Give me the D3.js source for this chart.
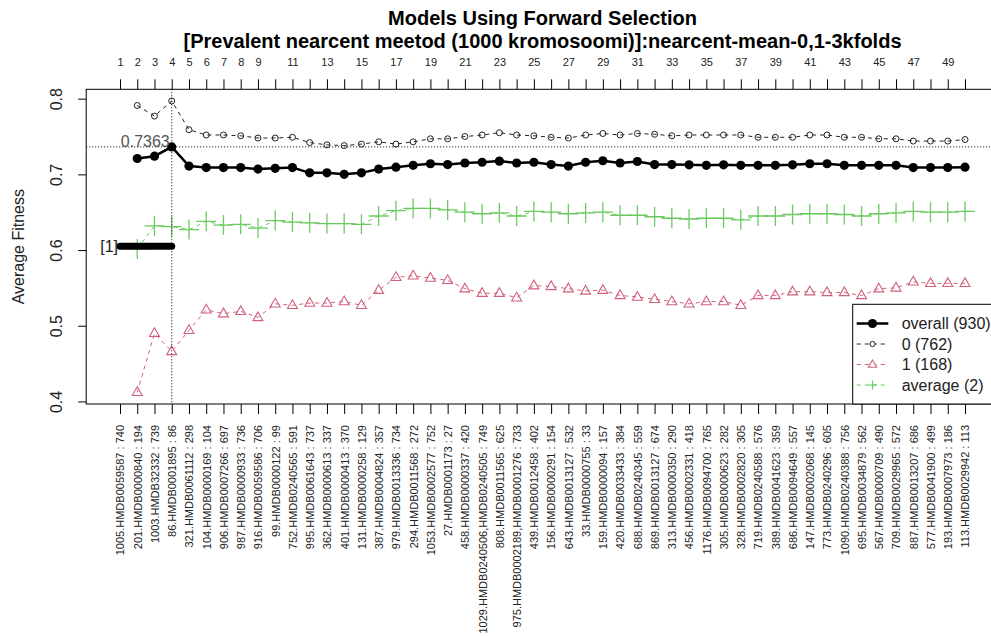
<!DOCTYPE html>
<html>
<head>
<meta charset="utf-8">
<script src="https://cdn.jsdelivr.net/npm/d3@7"></script>
<style>
  html, body { margin: 0; padding: 0; background: #fff; }
  svg { display: block; font-family: "Liberation Sans", Arial, sans-serif; }
</style>
</head>
<body>
<svg id="chart" width="991" height="636"></svg>
<script>
// Model steps 1..50 (step 1 has no fitness value)
const steps = d3.range(1, 51);

const featureLabels = [
  "1005.HMDB0059587 : 740", "201.HMDB0000840 : 194", "1003.HMDB32332 : 739", "86.HMDB0001895 : 86",
  "321.HMDB0061112 : 298", "104.HMDB0000169 : 104", "906.HMDB0007266 : 697", "987.HMDB0000933 : 736",
  "916.HMDB0059586 : 706", "99.HMDB0000122 : 99", "752.HMDB0240565 : 591", "995.HMDB0061643 : 737",
  "362.HMDB0000613 : 337", "401.HMDB0000413 : 370", "131.HMDB0000258 : 129", "387.HMDB0004824 : 357",
  "979.HMDB0013336 : 734", "294.HMDB0011568 : 272", "1053.HMDB0002577 : 752", "27.HMDB0001173 : 27",
  "458.HMDB0000337 : 420", "1029.HMDB0240506,HMDB0240505 : 749", "808.HMDB0011565 : 625",
  "975.HMDB0002189,HMDB0001276 : 733", "439.HMDB0012458 : 402", "156.HMDB0000291 : 154",
  "643.HMDB0013127 : 532", "33.HMDB0000755 : 33", "159.HMDB0000094 : 157", "420.HMDB0033433 : 384",
  "688.HMDB0240345 : 559", "869.HMDB0013127 : 674", "313.HMDB0000350 : 290", "456.HMDB0002331 : 418",
  "1176.HMDB0094700 : 765", "305.HMDB0000623 : 282", "328.HMDB0002820 : 305", "719.HMDB0240588 : 576",
  "389.HMDB0041623 : 359", "686.HMDB0094649 : 557", "147.HMDB0002068 : 145", "773.HMDB0240296 : 605",
  "1090.HMDB0240388 : 756", "695.HMDB0034879 : 562", "567.HMDB0000709 : 490", "709.HMDB0029965 : 572",
  "887.HMDB0013207 : 686", "577.HMDB0041900 : 499", "193.HMDB0007973 : 186", "113.HMDB0029942 : 113"
];

// Step numbers printed on the top axis
const topTickLabels = [1, 2, 3, 4, 5, 6, 7, 8, 9, 11, 13, 15, 17, 19, 21, 23, 25, 27, 29, 31,
  33, 35, 37, 39, 41, 43, 45, 47, 49];

const yTicks = [0.4, 0.5, 0.6, 0.7, 0.8];

const overallFitness = [null,
  0.721, 0.724, 0.7363, 0.711, 0.709, 0.709, 0.709, 0.707, 0.708, 0.709,
  0.702, 0.702, 0.700, 0.702, 0.707, 0.7095, 0.712, 0.714, 0.713, 0.715,
  0.716, 0.7175, 0.715, 0.716, 0.713, 0.711, 0.716, 0.718, 0.715, 0.717,
  0.713, 0.713, 0.7126, 0.712, 0.7126, 0.712, 0.712, 0.712, 0.7126, 0.714,
  0.714, 0.712, 0.712, 0.712, 0.712, 0.709, 0.709, 0.709, 0.7095];

const class0Fitness = [null,
  0.791, 0.777, 0.797, 0.759, 0.752, 0.752, 0.751, 0.748, 0.748, 0.749,
  0.742, 0.739, 0.738, 0.740, 0.743, 0.740, 0.743, 0.747, 0.747, 0.750,
  0.752, 0.755, 0.752, 0.751, 0.749, 0.748, 0.752, 0.754, 0.752, 0.754,
  0.753, 0.751, 0.752, 0.752, 0.752, 0.752, 0.749, 0.749, 0.749, 0.752,
  0.752, 0.749, 0.749, 0.747, 0.747, 0.744, 0.744, 0.744, 0.746];

const class1Fitness = [null,
  0.412, 0.490, 0.466, 0.494, 0.521, 0.516, 0.519, 0.511, 0.529, 0.527,
  0.530, 0.530, 0.532, 0.527, 0.547, 0.564, 0.566, 0.563, 0.560, 0.549,
  0.543, 0.543, 0.537, 0.553, 0.552, 0.549, 0.546, 0.547, 0.540, 0.538,
  0.535, 0.532, 0.529, 0.532, 0.532, 0.527, 0.540, 0.540, 0.545, 0.545,
  0.544, 0.544, 0.540, 0.549, 0.550, 0.558, 0.556, 0.556, 0.556];

const averageFitness = [null,
  0.6015, 0.632, 0.631, 0.627, 0.638, 0.633, 0.634, 0.629, 0.639, 0.637,
  0.636, 0.635, 0.635, 0.634, 0.645, 0.652, 0.655, 0.655, 0.653, 0.650,
  0.648, 0.649, 0.645, 0.651, 0.650, 0.648, 0.649, 0.650, 0.646, 0.646,
  0.644, 0.642, 0.641, 0.642, 0.642, 0.640, 0.645, 0.645, 0.647, 0.648,
  0.648, 0.647, 0.645, 0.648, 0.649, 0.651, 0.650, 0.650, 0.651];

// Best model: step and fitness; "[1]" bar level spanning steps 1..4
const bestStep = 4;
const bestFitness = 0.7363;
const firstGroupLevel = 0.605;
const firstGroupSpan = [1, 4];

const legendItems = ["overall (930)", "0 (762)", "1 (168)", "average (2)"];

// ---------- layout ----------
const svg = d3.select("#chart");
const plot = { left: 86.2, right: 998.8, top: 89.3, bottom: 404 };

const xPad = (steps[steps.length - 1] - steps[0]) * 0.04;
const x = d3.scaleLinear()
  .domain([steps[0] - xPad, steps[steps.length - 1] + xPad])
  .range([plot.left, plot.right]);

const allVals = [].concat(overallFitness, class0Fitness, class1Fitness, averageFitness).filter(v => v != null);
const [yMin, yMax] = d3.extent(allVals);
const yPad = (yMax - yMin) * 0.04;
const y = d3.scaleLinear().domain([yMin - yPad, yMax + yPad]).range([plot.bottom, plot.top]);

const colPink = "#D0617A";
const colGreen = "#6CCB60";

// ---------- titles ----------
const cx = (plot.left + plot.right) / 2;
svg.append("text").attr("x", cx).attr("y", 24.5).attr("text-anchor", "middle")
  .attr("font-size", 20).attr("font-weight", "bold").text("Models Using Forward Selection");
svg.append("text").attr("x", cx).attr("y", 48).attr("text-anchor", "middle")
  .attr("font-size", 20).attr("font-weight", "bold")
  .text("[Prevalent nearcent meetod (1000 kromosoomi)]:nearcent-mean-0,1-3kfolds");

// ---------- axes ----------
const topAxis = d3.axisTop(x).tickValues(steps)
  .tickFormat(d => topTickLabels.includes(d) ? d : "")
  .tickSize(10).tickSizeOuter(0).tickPadding(13);
const gTop = svg.append("g").attr("transform", `translate(0,${plot.top})`).call(topAxis);
gTop.select(".domain").remove();
gTop.selectAll("text").attr("font-size", 11).attr("font-family", "Liberation Sans, Arial, sans-serif").attr("fill", "#222");

const bottomAxis = d3.axisBottom(x).tickValues(steps)
  .tickFormat(d => featureLabels[d - 1])
  .tickSize(10).tickSizeOuter(0);
const gBot = svg.append("g").attr("transform", `translate(0,${plot.bottom})`).call(bottomAxis);
gBot.select(".domain").remove();
gBot.selectAll("text")
  .attr("font-size", 11).attr("font-family", "Liberation Sans, Arial, sans-serif").attr("fill", "#222")
  .attr("transform", "rotate(-90)")
  .attr("text-anchor", "end")
  .attr("x", -21).attr("y", 0).attr("dy", "0.35em");

const leftAxis = d3.axisLeft(y).tickValues(yTicks).tickFormat(d3.format(".1f"))
  .tickSize(8).tickSizeOuter(0);
const gLeft = svg.append("g").attr("transform", `translate(${plot.left},0)`).call(leftAxis);
gLeft.select(".domain").remove();
gLeft.selectAll("text")
  .attr("font-size", 16).attr("font-family", "Liberation Sans, Arial, sans-serif").attr("fill", "#222")
  .attr("transform", "rotate(-90)")
  .attr("text-anchor", "middle")
  .attr("x", 0).attr("y", -24).attr("dy", 0);

svg.append("text")
  .attr("transform", `translate(24,${(plot.top + plot.bottom) / 2}) rotate(-90)`)
  .attr("text-anchor", "middle").attr("font-size", 16).attr("fill", "#222")
  .text("Average Fitness");

// plot frame
svg.append("rect")
  .attr("x", plot.left).attr("y", plot.top)
  .attr("width", plot.right - plot.left).attr("height", plot.bottom - plot.top)
  .attr("fill", "none").attr("stroke", "#000").attr("stroke-width", 1);

// ---------- series ----------
const seriesData = arr => steps.map((s, i) => ({ s, v: arr[i] }));
const line = d3.line().defined(d => d.v != null).x(d => x(d.s)).y(d => y(d.v));

const g = svg.append("g");

// average (green, dashed, large plus signs)
const avg = seriesData(averageFitness);
g.append("path").datum(avg).attr("d", line)
  .attr("fill", "none").attr("stroke", colGreen).attr("stroke-width", 1).attr("stroke-dasharray", "4,4");
g.selectAll(".plus").data(avg.filter(d => d.v != null)).join("path")
  .attr("d", d => { const px = x(d.s), py = y(d.v), h = 10;
    return `M${px - h},${py}H${px + h}M${px},${py - h}V${py + h}`; })
  .attr("stroke", colGreen).attr("stroke-width", 1.3).attr("fill", "none");

// class 1 (pink, dashed, open triangles)
const c1 = seriesData(class1Fitness);
g.append("path").datum(c1).attr("d", line)
  .attr("fill", "none").attr("stroke", colPink).attr("stroke-width", 1).attr("stroke-dasharray", "4,4");
g.selectAll(".tri").data(c1.filter(d => d.v != null)).join("path")
  .attr("d", d => { const px = x(d.s), py = y(d.v);
    return `M${px},${py - 5.5}L${px + 5},${py + 3.2}L${px - 5},${py + 3.2}Z`; })
  .attr("fill", "none").attr("stroke", colPink).attr("stroke-width", 1.1);

// class 0 (black, dashed, small open circles)
const c0 = seriesData(class0Fitness);
g.append("path").datum(c0).attr("d", line)
  .attr("fill", "none").attr("stroke", "#222").attr("stroke-width", 1).attr("stroke-dasharray", "4,4");
g.selectAll(".c0").data(c0.filter(d => d.v != null)).join("circle")
  .attr("cx", d => x(d.s)).attr("cy", d => y(d.v)).attr("r", 3)
  .attr("fill", "none").attr("stroke", "#222").attr("stroke-width", 1);

// overall (black, solid, filled circles)
const ov = seriesData(overallFitness);
g.append("path").datum(ov).attr("d", line)
  .attr("fill", "none").attr("stroke", "#000").attr("stroke-width", 2.5);
g.selectAll(".ov").data(ov.filter(d => d.v != null)).join("circle")
  .attr("cx", d => x(d.s)).attr("cy", d => y(d.v)).attr("r", 4.6).attr("fill", "#000");

// best model reference lines
svg.append("line")
  .attr("x1", plot.left).attr("x2", plot.right).attr("y1", y(bestFitness)).attr("y2", y(bestFitness))
  .attr("stroke", "#000").attr("stroke-width", 1).attr("stroke-dasharray", "1,2");
svg.append("line")
  .attr("x1", x(bestStep)).attr("x2", x(bestStep)).attr("y1", plot.top).attr("y2", plot.bottom)
  .attr("stroke", "#000").attr("stroke-width", 1).attr("stroke-dasharray", "1,2");
svg.append("text")
  .attr("x", x(bestStep) - 2).attr("y", y(bestFitness) + 0.5)
  .attr("text-anchor", "end").attr("font-size", 16).attr("fill", "#555")
  .text(bestFitness.toFixed(4));

// first group bar with its label
svg.append("line")
  .attr("x1", x(firstGroupSpan[0])).attr("x2", x(firstGroupSpan[1]))
  .attr("y1", y(firstGroupLevel)).attr("y2", y(firstGroupLevel))
  .attr("stroke", "#000").attr("stroke-width", 7).attr("stroke-linecap", "round");
svg.append("text")
  .attr("x", x(firstGroupSpan[0]) - 2).attr("y", y(firstGroupLevel) + 6)
  .attr("text-anchor", "end").attr("font-size", 16).attr("fill", "#222")
  .text("[1]");

// ---------- legend ----------
const lg = svg.append("g");
const lgBox = { left: 852.7, top: 304.3 };
lg.append("rect")
  .attr("x", lgBox.left).attr("y", lgBox.top)
  .attr("width", plot.right - lgBox.left).attr("height", plot.bottom - lgBox.top)
  .attr("fill", "#fff").attr("stroke", "#000").attr("stroke-width", 1);

const lx0 = 856.7, lx1 = 888.3, lmx = (lx0 + lx1) / 2, ltx = 901.7;
legendItems.forEach((label, i) => {
  const ly = 323.5 + i * 20.5;
  const row = lg.append("g");
  if (i === 0) {
    row.append("line").attr("x1", lx0).attr("x2", lx1).attr("y1", ly).attr("y2", ly)
      .attr("stroke", "#000").attr("stroke-width", 2.5);
    row.append("circle").attr("cx", lmx).attr("cy", ly).attr("r", 4.6).attr("fill", "#000");
  } else if (i === 1) {
    row.append("line").attr("x1", lx0).attr("x2", lx1).attr("y1", ly).attr("y2", ly)
      .attr("stroke", "#222").attr("stroke-dasharray", "4,4");
    row.append("circle").attr("cx", lmx).attr("cy", ly).attr("r", 2.6)
      .attr("fill", "#fff").attr("stroke", "#222");
  } else if (i === 2) {
    row.append("line").attr("x1", lx0).attr("x2", lx1).attr("y1", ly).attr("y2", ly)
      .attr("stroke", colPink).attr("stroke-dasharray", "4,4");
    row.append("path")
      .attr("d", `M${lmx},${ly - 4.5}L${lmx + 4.2},${ly + 2.7}L${lmx - 4.2},${ly + 2.7}Z`)
      .attr("fill", "#fff").attr("stroke", colPink).attr("stroke-width", 1.1);
  } else {
    row.append("line").attr("x1", lx0).attr("x2", lx1).attr("y1", ly).attr("y2", ly)
      .attr("stroke", colGreen).attr("stroke-dasharray", "4,4");
    row.append("path")
      .attr("d", `M${lmx - 4.5},${ly}H${lmx + 4.5}M${lmx},${ly - 4.5}V${ly + 4.5}`)
      .attr("stroke", colGreen).attr("stroke-width", 1.2);
  }
  row.append("text").attr("x", ltx).attr("y", ly + 5.5)
    .attr("font-size", 16).attr("fill", "#222").text(label);
});
</script>
</body>
</html>
